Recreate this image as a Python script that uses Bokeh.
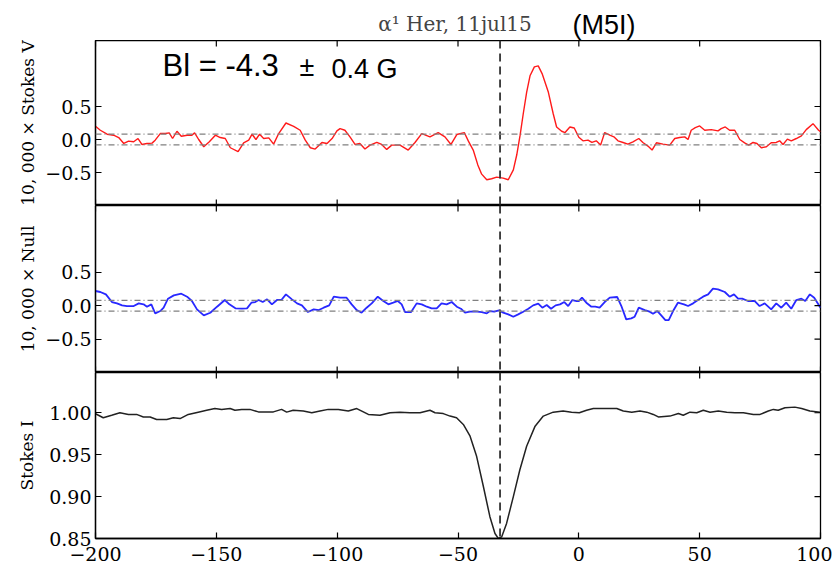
import math
from bokeh.plotting import figure
from bokeh.models import FixedTicker, Span, Label, Range1d
from bokeh.layouts import column
from bokeh.embed import file_html
from bokeh.resources import INLINE

# ---------------- data ----------------
x_min, x_max = -200, 100
x_ticks = [-200, -150, -100, -50, 0, 50, 100]
x_tick_labels = ["\u2212200", "\u2212150", "\u2212100", "\u221250", "0", "50", "100"]
pol_min, pol_max = -1.0, 1.5
pol_ticks = [-0.5, 0.0, 0.5]
pol_tick_labels = ["\u22120.5", "0.0", "0.5"]
int_min, int_max = 0.85, 1.048
int_ticks = [0.85, 0.90, 0.95, 1.00]
int_tick_labels = ["0.85", "0.90", "0.95", "1.00"]

line_center = -32.6      # velocity of the dashed vertical line
noise_level = 0.08       # dash-dot noise band

v_vel = [-200, -198, -195.2, -192.5, -190.4, -188.3, -186.3, -184.2, -182.4, -180.8,
         -178.7, -176.6, -175.3, -173.2, -171.1, -169.5, -168.1, -166.3, -164.5, -162.1,
         -160.1, -159, -157.3, -155.2, -152.9, -150.4, -148.4, -146.3, -144.2, -141.0,
         -138.7, -136.6, -135.2, -133.6, -132.1, -130.4, -128.3, -126.3, -124.2, -121.2,
         -118.0, -115.3, -113.2, -111.1, -109.1, -106.3, -104.2, -102.1, -100.1, -98.8,
         -96.8, -94.7, -92.6, -90.6, -88.5, -86.4, -83.6, -81.6, -79.5, -77.4,
         -74.0, -70.6, -67.8, -65.0, -61.6, -58.2, -55.4, -52.9, -50.5, -47.4,
         -45.7, -43.7, -41.8, -40.2, -38.1, -36.1, -34.0, -31.3, -29.2, -27.1,
         -25.7, -24.3, -23.0, -21.6, -20.2, -18.4, -16.8, -15.1, -12.6, -10.6,
         -9.2, -7.1, -5.7, -3.7, -1.9, 0.0, 1.7, 3.8, 5.4, 7.2,
         9.0, 10.7, 12.8, 14.5, 16.2, 18.3, 20.3, 22.4, 24.8, 26.5,
         28.6, 30.3, 32.1, 34.8, 37.6, 39.7, 41.7, 43.8, 45.2, 46.5,
         48.2, 50.0, 52.1, 54.8, 57.6, 58.9, 60.6, 62.4, 64.5, 66.6,
         68.6, 70.3, 72.1, 73.7, 75.5, 77.6, 79.6, 81.7, 83.1, 84.5,
         86.3, 87.9, 90.0, 92.1, 94.1, 96.9, 99.2, 100]
stokes_v = [0.20, 0.14, 0.08, 0.065, 0.03, -0.06, -0.025, -0.035, 0.015, -0.075,
            -0.06, -0.055, -0.01, 0.09, 0.09, 0.10, 0.015, 0.125, 0.05, 0.065,
            0.065, 0.10, 0.0, -0.11, -0.035, 0.065, 0.03, 0.015, -0.125, -0.185,
            -0.05, -0.01, 0.08, 0.0, 0.08, 0.015, 0.025, -0.07, 0.09, 0.25,
            0.20, 0.14, -0.01, -0.125, -0.145, -0.045, -0.06, 0.015, 0.13, 0.165,
            0.14, 0.04, -0.075, -0.06, -0.145, -0.085, -0.045, -0.075, -0.15, -0.085,
            -0.085, -0.16, -0.045, 0.09, 0.04, 0.105, 0.04, -0.075, 0.075, 0.105,
            -0.025, -0.16, -0.385, -0.525, -0.61, -0.595, -0.57, -0.585, -0.61, -0.46,
            -0.235, 0.065, 0.39, 0.715, 0.965, 1.10, 1.115, 0.99, 0.715, 0.39,
            0.19, 0.125, 0.105, 0.19, 0.175, 0.035, -0.02, -0.01, -0.045, -0.02,
            -0.085, 0.105, 0.065, 0.04, -0.02, -0.045, -0.07, -0.035, 0.015, -0.045,
            -0.10, -0.16, -0.05, -0.07, -0.085, 0.015, 0.03, 0.04, 0.0, 0.14,
            0.18, 0.205, 0.14, 0.15, 0.13, 0.165, 0.19, 0.14, 0.14, 0.0,
            -0.05, -0.085, -0.045, -0.06, -0.125, -0.11, -0.05, -0.045, -0.02, -0.075,
            0.005, -0.02, 0.015, 0.055, 0.15, 0.24, 0.14, 0.12]

n_vel = [-200, -198, -195.7, -193.2, -191.1, -189.0, -187.0, -184.2, -182.1, -180.1,
         -178.7, -176.9, -175.3, -173.2, -171.8, -170.0, -167.6, -164.5, -162.1, -160.1,
         -158.0, -155.2, -152.5, -149.7, -146.5, -144.6, -142.1, -139.4, -137.3, -135.5,
         -133.9, -132.5, -130.8, -129.0, -127.0, -124.9, -123.1, -121.2, -118.7, -116.6,
         -114.6, -112.1, -109.7, -107.6, -105.6, -103.3, -101.4, -98.8, -96.1, -94.0,
         -91.9, -89.9, -87.8, -85.7, -83.2, -80.9, -78.8, -76.8, -74.9, -73.3,
         -71.9, -69.4, -67.1, -65.0, -62.9, -60.9, -58.8, -56.8, -54.7, -52.6,
         -50.5, -48.8, -47.1, -45.0, -43.0, -40.2, -38.1, -36.8, -35.0, -33.0,
         -31.3, -29.2, -27.1, -25.1, -23.0, -20.9, -18.9, -16.8, -15.1, -13.3,
         -11.5, -9.6, -7.8, -6.0, -4.4, -2.7, -0.9, 0.0, 1.3, 3.1,
         5.2, 6.8, 8.6, 10.7, 12.8, 15.9, 17.6, 19.6, 21.7, 23.1,
         24.8, 27.3, 29.3, 30.7, 32.5, 34.1, 35.8, 37.2, 39.0, 41.0,
         43.5, 45.2, 47.3, 49.3, 51.4, 53.5, 55.5, 57.6, 60.4, 62.4,
         64.2, 65.9, 67.6, 70.0, 72.8, 74.8, 76.9, 79.6, 81.7, 83.8,
         85.8, 87.9, 90.0, 92.1, 93.7, 95.6, 97.4, 100]
null_n = [0.22, 0.205, 0.17, 0.055, 0.035, 0.005, -0.005, -0.005, 0.035, 0.02,
          -0.015, 0.02, -0.115, -0.08, -0.03, 0.105, 0.155, 0.18, 0.135, 0.07,
          -0.055, -0.145, -0.105, -0.015, 0.085, 0.02, -0.04, -0.045, -0.04, 0.045,
          0.055, 0.085, 0.055, 0.095, 0.02, 0.085, 0.085, 0.17, 0.095, 0.035,
          0.005, -0.095, -0.055, -0.065, -0.03, 0.005, 0.135, 0.12, 0.12, 0.02,
          -0.065, -0.105, -0.03, 0.035, 0.135, 0.07, 0.02, 0.045, 0.07, 0.02,
          -0.095, -0.095, 0.035, 0.02, -0.015, -0.04, -0.04, 0.035, 0.02, 0.055,
          -0.015, -0.045, -0.105, -0.09, -0.085, -0.095, -0.115, -0.08, -0.09, -0.07,
          -0.105, -0.13, -0.165, -0.13, -0.09, -0.045, 0.005, 0.03, -0.03, 0.01,
          -0.045, 0.005, 0.02, 0.055, -0.005, 0.085, 0.07, 0.07, 0.12, 0.045,
          -0.015, -0.015, -0.03, 0.055, 0.12, 0.13, -0.005, -0.205, -0.19, -0.165,
          -0.03, -0.065, -0.09, -0.12, -0.08, -0.145, -0.215, -0.215, -0.08, 0.045,
          0.02, -0.005, 0.035, 0.085, 0.135, 0.17, 0.255, 0.245, 0.205, 0.135,
          0.17, 0.105, 0.105, 0.07, 0.07, -0.005, 0.035, -0.055, 0.035, -0.03,
          0.045, -0.045, 0.085, 0.105, 0.07, 0.17, 0.12, -0.03]

i_vel = [-200, -196.8, -193.3, -189.9, -186.4, -183.0, -180.2, -177.4, -174.7, -170.5,
         -167.8, -165.0, -161.6, -157.5, -154.0, -150.6, -147.8, -144.3, -142.3, -139.5,
         -136.1, -132.6, -129.2, -126.4, -123.0, -120.9, -118.2, -114.0, -110.5, -107.1,
         -103.7, -99.5, -95.4, -91.9, -89.8, -87.1, -82.3, -78.1, -74.0, -69.9,
         -65.7, -61.6, -59.5, -56.1, -53.3, -50.6, -47.8, -45.0, -42.3, -39.5,
         -36.8, -34.7, -33.3, -31.9, -29.9, -27.1, -24.4, -21.6, -18.1, -14.7,
         -10.6, -6.5, -3.0, 0.2, 3.2, 6.0, 10.1, 15.7, 18.4, 21.9,
         25.3, 28.1, 30.8, 32.9, 37.7, 41.2, 43.2, 46.0, 48.8, 51.5,
         54.3, 57.7, 61.2, 64.6, 68.1, 72.2, 75.0, 78.4, 80.5, 82.5,
         85.3, 89.4, 92.2, 95.6, 99.8]
stokes_i = [0.9988, 0.994, 0.997, 1.000, 0.998, 0.998, 0.995, 0.995, 0.992, 0.992,
            0.994, 0.993, 0.998, 1.0007, 1.003, 1.005, 1.004, 1.005, 1.003, 1.004,
            1.004, 1.001, 1.001, 1.001, 1.004, 1.0007, 1.003, 1.002, 1.000, 1.002,
            1.004, 1.004, 1.002, 1.005, 1.002, 0.998, 0.997, 1.000, 1.0007, 1.000,
            1.000, 1.003, 1.000, 0.999, 0.996, 0.994, 0.986, 0.972, 0.948, 0.912,
            0.876, 0.856, 0.850, 0.852, 0.868, 0.900, 0.932, 0.960, 0.984, 0.996,
            1.0007, 1.002, 1.0007, 1.000, 1.003, 1.005, 1.005, 1.005, 1.002, 1.0007,
            1.002, 1.0007, 0.998, 0.995, 0.996, 0.999, 0.997, 1.0007, 1.000, 1.003,
            1.0007, 1.002, 1.0007, 1.000, 1.000, 0.998, 0.998, 1.002, 1.004, 1.003,
            1.006, 1.0067, 1.005, 1.002, 1.0007]

title_text = "\u03b1\u00b9 Her, 11jul15"
class_text = "(M5I)"
field_text = "Bl = -4.3"
pm_text = "\u00b1"
field_err_text = "0.4 G"

# ---------------- styling helpers ----------------
SERIF = "DejaVu Serif"
SANS = "Liberation Sans"
LEFT = 95
RIGHT = 12
FRAME_W = 725
TICK_LEN = 12   # full marker length, half of it is visible inside the frame


def style_axis(ax, ticks, labels, standoff):
    ax.ticker = FixedTicker(ticks=ticks)
    ax.major_tick_in = 6
    ax.major_tick_out = 0
    ax.minor_tick_line_color = None
    ax.axis_line_color = "black"
    ax.axis_line_width = 1.3
    ax.major_tick_line_color = "black"
    ax.major_tick_line_width = 1.2
    ax.major_label_overrides = {t: l for t, l in zip(ticks, labels)}
    ax.major_label_text_font = SERIF
    ax.major_label_text_font_size = "19px"
    ax.major_label_text_color = "black"
    ax.major_label_standoff = standoff


def edge_ticks(p, y0, y1, yticks, top=True, bottom=True):
    # inward tick marks on the frame edges that carry no labels
    p.scatter(x=[x_max] * len(yticks), y=yticks, marker="dash", size=TICK_LEN,
              line_color="black", line_width=1.2)
    if top:
        p.scatter(x=x_ticks, y=[y1] * len(x_ticks), marker="dash", size=TICK_LEN,
                  angle=math.pi / 2, line_color="black", line_width=1.2)
    if bottom:
        p.scatter(x=x_ticks, y=[y0] * len(x_ticks), marker="dash", size=TICK_LEN,
                  angle=math.pi / 2, line_color="black", line_width=1.2)


def make_panel(frame_h, bottom, y0, y1, yticks, ylabels, ylabel, show_x, label_standoff):
    p = figure(width=LEFT + FRAME_W + RIGHT, height=frame_h + bottom,
               output_backend="svg", toolbar_location=None,
               x_range=Range1d(x_min, x_max), y_range=Range1d(y0, y1),
               min_border_left=LEFT, min_border_right=RIGHT,
               min_border_top=0, min_border_bottom=bottom)
    p.grid.visible = False
    p.outline_line_color = "black"
    p.outline_line_width = 1.3
    p.background_fill_color = "white"
    p.border_fill_color = "white"
    if show_x:
        style_axis(p.xaxis[0], x_ticks, x_tick_labels, 8)
    else:
        p.xaxis.visible = False
    style_axis(p.yaxis[0], yticks, ylabels, 4)
    p.yaxis[0].axis_label = ylabel
    p.yaxis[0].axis_label_text_font = SERIF
    p.yaxis[0].axis_label_text_font_size = "17px"
    p.yaxis[0].axis_label_text_font_style = "normal"
    p.yaxis[0].axis_label_text_color = "black"
    p.yaxis[0].axis_label_standoff = label_standoff
    p.add_layout(Span(location=line_center, dimension="height", line_color="#333333",
                      line_width=1.8, line_dash="8 5"))
    return p


# ---------------- header strip with the titles ----------------
HEAD_H = 40
head = figure(width=LEFT + FRAME_W + RIGHT, height=HEAD_H, output_backend="svg",
              toolbar_location=None, x_range=Range1d(0, 1), y_range=Range1d(0, 1),
              min_border_left=LEFT, min_border_right=RIGHT, min_border_top=0,
              min_border_bottom=0)
head.axis.visible = False
head.grid.visible = False
head.outline_line_color = None
head.add_layout(Label(x=FRAME_W / 2 - 3, y=17, x_units="screen", y_units="screen",
                      text=title_text, text_font=SERIF, text_font_size="20px",
                      text_color="#444444", text_align="center", text_baseline="middle"))
head.add_layout(Label(x=477, y=16, x_units="screen", y_units="screen", text=class_text,
                      text_font=SANS, text_font_size="27px", text_color="black",
                      text_baseline="middle"))

# ---------------- panel 1: Stokes V ----------------
p1 = make_panel(165, 0, pol_min, pol_max, pol_ticks, pol_tick_labels,
                "10, 000 \u00d7 Stokes V", False, 4)
for lv in (noise_level, -noise_level):
    p1.add_layout(Span(location=lv, dimension="width", line_color="#808080",
                       line_width=1.3, line_dash="6 3 1 3"))
p1.line(v_vel, stokes_v, line_color="#ff1a1a", line_width=1.4)
edge_ticks(p1, pol_min, pol_max, pol_ticks)
p1.add_layout(Label(x=67, y=140, x_units="screen", y_units="screen", text=field_text,
                    text_font=SANS, text_font_size="31px", text_color="black",
                    text_baseline="middle"))
p1.add_layout(Label(x=204, y=139, x_units="screen", y_units="screen", text=pm_text,
                    text_font=SANS, text_font_size="27px", text_color="black",
                    text_baseline="middle"))
p1.add_layout(Label(x=236, y=137, x_units="screen", y_units="screen", text=field_err_text,
                    text_font=SANS, text_font_size="27px", text_color="black",
                    text_baseline="middle"))

# ---------------- panel 2: Null ----------------
p2 = make_panel(167, 0, pol_min, pol_max, pol_ticks, pol_tick_labels,
                "10, 000 \u00d7 Null", False, 4)
for lv in (noise_level, -noise_level):
    p2.add_layout(Span(location=lv, dimension="width", line_color="#808080",
                       line_width=1.3, line_dash="6 3 1 3"))
p2.line(n_vel, null_n, line_color="#2828ff", line_width=1.8)
edge_ticks(p2, pol_min, pol_max, pol_ticks)

# ---------------- panel 3: Stokes I ----------------
p3 = make_panel(166, 29, int_min, int_max, int_ticks, int_tick_labels,
                "Stokes I", True, 9)
p3.line(i_vel, stokes_i, line_color="#222222", line_width=1.5)
edge_ticks(p3, int_min, int_max, int_ticks, top=True, bottom=False)

layout = column(head, p1, p2, p3, spacing=0)

open("out.html", "w").write(file_html(layout, INLINE))
